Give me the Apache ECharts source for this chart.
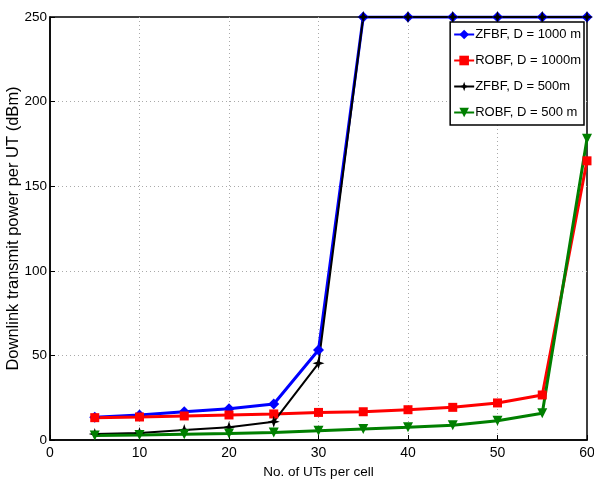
<!DOCTYPE html>
<html><head><meta charset="utf-8">
<script src="https://cdn.jsdelivr.net/npm/echarts@6/dist/echarts.min.js"></script>
<style>html,body{margin:0;padding:0;background:#fff}#c{width:594px;height:485px}</style>
</head><body><div id="c"></div>
<script>
var xValues = [5, 10, 15, 20, 25, 30, 35, 40, 45, 50, 55, 60];
var zfbf1000 = [13.4, 14.8, 16.7, 18.5, 21.3, 53.2, 250, 250, 250, 250, 250, 250];
var robf1000 = [13.2, 13.6, 14.2, 14.8, 15.4, 16.3, 16.7, 17.9, 19.3, 21.9, 26.6, 165];
var zfbf500 = [3.5, 4.1, 5.9, 7.5, 10.8, 45.3, 250, 250, 250, 250, 250, 250];
var robf500 = [2.7, 3.0, 3.4, 3.8, 4.5, 5.5, 6.5, 7.5, 8.7, 11.4, 15.8, 178];
var seriesNames = ['ZFBF, D = 1000 m', 'ROBF, D = 1000m', 'ZFBF, D = 500m', 'ROBF, D = 500 m'];

var FONT = '"Liberation Sans", Arial, sans-serif';
function pairs(v){ return xValues.map(function(x,i){return [x, v[i]];}); }
var star = 'path://M0,-10 L2.5,-2.5 L10,0 L2.5,2.5 L0,10 L-2.5,2.5 L-10,0 L-2.5,-2.5 Z';
function mk(name, data, color, symbol, size, width, rot){
  return {name:name, type:'line', data:pairs(data), symbol:symbol, symbolSize:size, symbolRotate:rot||0,
    lineStyle:{color:color, width:width}, itemStyle:{color:color}, color:color, z:3};
}
var chart = echarts.init(document.getElementById('c'));
chart.setOption({
  animation:false,
  grid:{left:50, right:7, top:17, bottom:45, show:true, borderColor:'#000', borderWidth:1.5, outerBoundsMode:'none', containLabel:false},
  legend:{
    right:10, top:22, orient:'vertical', backgroundColor:'#fff', borderColor:'#000', borderWidth:1.5,
    padding:[6,3,6,3], itemGap:13, itemWidth:20, itemHeight:12,
    textStyle:{fontFamily:FONT, fontSize:13, color:'#000', padding:[0,0,0,-4]},
    data:seriesNames
  },
  xAxis:{type:'value', min:0, max:60, interval:10,
    name:'No. of UTs per cell', nameLocation:'middle', nameGap:25, nameMoveOverlap:false,
    nameTextStyle:{fontFamily:FONT, fontSize:13.5, color:'#000'},
    axisLine:{show:true, onZero:false, lineStyle:{color:'#000', width:1.5}},
    axisTick:{inside:true, length:5, lineStyle:{color:'#000'}},
    axisLabel:{fontFamily:FONT, fontSize:14, color:'#000', margin:6},
    splitLine:{show:true, showMinLine:false, showMaxLine:false, lineStyle:{color:'#aaa', type:[1,3], width:1}}
  },
  yAxis:{type:'value', min:0, max:250, interval:50,
    name:'Downlink transmit power per UT (dBm)', nameLocation:'middle', nameGap:28, nameMoveOverlap:false,
    nameTextStyle:{fontFamily:FONT, fontSize:16.5, color:'#000'},
    axisLine:{show:true, lineStyle:{color:'#000', width:1.5}},
    axisTick:{inside:true, length:5, lineStyle:{color:'#000'}},
    axisLabel:{fontFamily:FONT, fontSize:13.5, color:'#000', margin:3},
    splitLine:{show:true, showMinLine:false, showMaxLine:false, lineStyle:{color:'#aaa', type:[1,3], width:1}}
  },
  series:[
    mk(seriesNames[0], zfbf1000, '#0000ff', 'diamond', 11, 3),
    mk(seriesNames[1], robf1000, '#ff0000', 'rect', 9, 3),
    mk(seriesNames[2], zfbf500, '#000000', star, 12, 2),
    mk(seriesNames[3], robf500, '#007f00', 'triangle', 10, 3, 180)
  ]
});
</script></body></html>
